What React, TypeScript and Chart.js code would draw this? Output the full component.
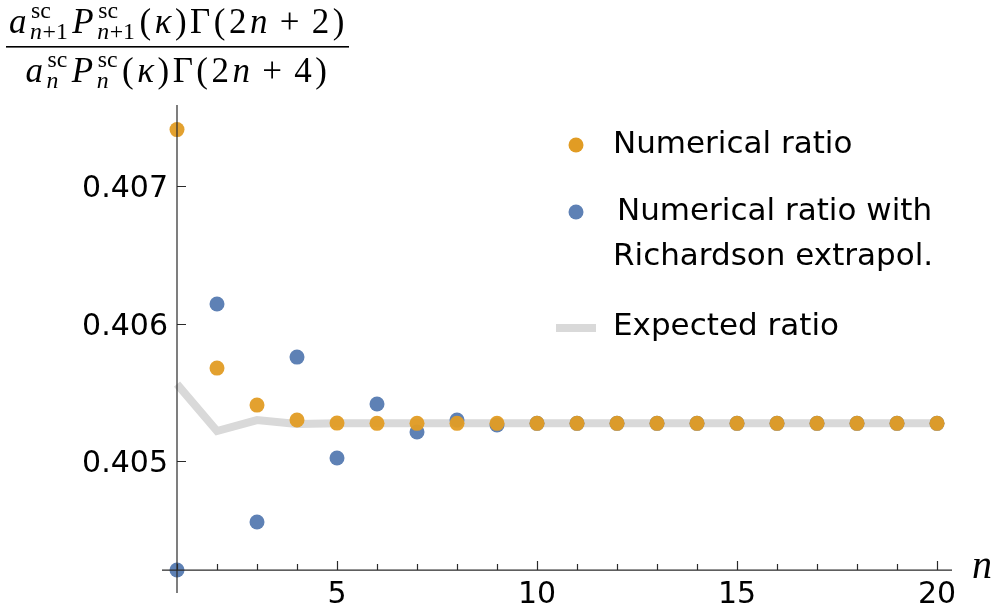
import React, { useEffect, useRef } from 'react';
import { Chart, registerables } from 'chart.js';

Chart.register(...registerables);

// ---- data ----
const nValues = [1, 2, 3, 4, 5, 6, 7, 8, 9, 10, 11, 12, 13, 14, 15, 16, 17, 18, 19, 20];
const numericalRatio = [
  0.407411, 0.405676, 0.405407, 0.405298, 0.405276, 0.405274, 0.405274, 0.405274, 0.405274, 0.405274,
  0.405274, 0.405274, 0.405274, 0.405274, 0.405274, 0.405274, 0.405274, 0.405274, 0.405274, 0.405274,
];
const richardsonRatio = [
  0.404207, 0.406142, 0.404556, 0.405756, 0.405022, 0.405415, 0.405211, 0.405298, 0.405262, 0.405274,
  0.405274, 0.405274, 0.405274, 0.405274, 0.405274, 0.405274, 0.405274, 0.405274, 0.405274, 0.405274,
];
const expectedRatio = [
  0.40556, 0.405218, 0.405298, 0.405269, 0.405274, 0.405274, 0.405274, 0.405274, 0.405274, 0.405274,
  0.405274, 0.405274, 0.405274, 0.405274, 0.405274, 0.405274, 0.405274, 0.405274, 0.405274, 0.405274,
];
const xMinorTicks = [1, 2, 3, 4, 5, 6, 7, 8, 9, 10, 11, 12, 13, 14, 15, 16, 17, 18, 19, 20];
const xMajorTicks = [5, 10, 15, 20];
const xTickLabels = ['5', '10', '15', '20'];
const yTicks = [0.405, 0.406, 0.407];
const yTickLabels = ['0.405', '0.406', '0.407'];
const axisOrigin = { x: 1, y: 0.404207 };
const xRange = { min: 0.625, max: 20.375 };
const yRange = { min: 0.40404, max: 0.40759 };
const seriesNames = ['Numerical ratio', 'Numerical ratio with', 'Richardson extrapol.', 'Expected ratio'];
const xAxisTitle = 'n';

const ORANGE = '#e19c24';
const BLUE = '#5e81b5';
const GRAY = '#d9d9d9';
const AXIS = '#2a2a2a';
const SANS = '"DejaVu Sans", sans-serif';
const SERIF = '"Liberation Serif", serif';

type Piece = { t: string; it?: boolean };
type Item = Piece | { sup: Piece[]; sub: Piece[] };

const numerator: Item[] = [
  { t: 'a', it: true },
  { sup: [{ t: 'sc' }], sub: [{ t: 'n', it: true }, { t: '+1' }] },
  { t: 'P', it: true },
  { sup: [{ t: 'sc' }], sub: [{ t: 'n', it: true }, { t: '+1' }] },
  { t: '(' },
  { t: 'κ', it: true },
  { t: ')' },
  { t: 'Γ' },
  { t: '(' },
  { t: '2' },
  { t: 'n', it: true },
  { t: ' + ' },
  { t: '2' },
  { t: ')' },
];
const denominator: Item[] = [
  { t: 'a', it: true },
  { sup: [{ t: 'sc' }], sub: [{ t: 'n', it: true }] },
  { t: 'P', it: true },
  { sup: [{ t: 'sc' }], sub: [{ t: 'n', it: true }] },
  { t: '(' },
  { t: 'κ', it: true },
  { t: ')' },
  { t: 'Γ' },
  { t: '(' },
  { t: '2' },
  { t: 'n', it: true },
  { t: ' + ' },
  { t: '4' },
  { t: ')' },
];

function font(size: number, it?: boolean) {
  return `${it ? 'italic ' : ''}${size}px ${SERIF}`;
}

function drawPieces(ctx: CanvasRenderingContext2D, pieces: Piece[], x: number, y: number, size: number, draw: boolean) {
  let w = 0;
  for (const p of pieces) {
    ctx.font = font(size, p.it);
    if (draw) ctx.fillText(p.t, x + w, y);
    w += ctx.measureText(p.t).width + 0.6;
  }
  return w;
}

function drawMath(ctx: CanvasRenderingContext2D, items: Item[], x: number, y: number, S: number, gap: number, draw: boolean) {
  let w = 0;
  const s = S * 0.68;
  for (const it of items) {
    if ('sup' in it) {
      const w1 = drawPieces(ctx, it.sup, x + w + 1, y - S * 0.42, s, draw);
      const w2 = drawPieces(ctx, it.sub, x + w, y + S * 0.17, s, draw);
      w += Math.max(w1 + 1, w2) + 1;
    } else {
      w += drawPieces(ctx, [it], x + w, y, S, draw);
    }
    w += gap;
  }
  return w - gap;
}

const overlay = {
  id: 'overlay',
  afterDatasetsDraw(chart: any) {
    const ctx: CanvasRenderingContext2D = chart.ctx;
    const xs = chart.scales.x;
    const ys = chart.scales.y;
    const area = chart.chartArea;
    ctx.save();
    // axes
    const ox = xs.getPixelForValue(axisOrigin.x);
    const oy = ys.getPixelForValue(axisOrigin.y);
    ctx.strokeStyle = AXIS;
    ctx.lineWidth = 1.2;
    ctx.beginPath();
    ctx.moveTo(area.left, oy);
    ctx.lineTo(area.right, oy);
    ctx.moveTo(ox, area.top);
    ctx.lineTo(ox, area.bottom);
    ctx.stroke();
    // ticks
    ctx.beginPath();
    for (const v of xMinorTicks) {
      const px = Math.round(xs.getPixelForValue(v)) + 0.5;
      const len = xMajorTicks.includes(v) ? 9 : 6;
      ctx.moveTo(px, oy);
      ctx.lineTo(px, oy - len);
    }
    for (const v of yTicks) {
      const py = Math.round(ys.getPixelForValue(v)) + 0.5;
      ctx.moveTo(ox, py);
      ctx.lineTo(ox + 9, py);
    }
    ctx.stroke();
    // tick labels
    ctx.fillStyle = '#000';
    ctx.font = `30px ${SANS}`;
    ctx.textBaseline = 'alphabetic';
    ctx.textAlign = 'center';
    xMajorTicks.forEach((v, i) => {
      ctx.fillText(xTickLabels[i], xs.getPixelForValue(v), oy + 33);
    });
    ctx.textAlign = 'right';
    yTicks.forEach((v, i) => {
      ctx.fillText(yTickLabels[i], ox - 9, ys.getPixelForValue(v) + 11);
    });
    // x axis title
    ctx.textAlign = 'left';
    ctx.font = font(40, true);
    ctx.fillText(xAxisTitle, 972, oy + 8);

    // legend
    ctx.font = `31px ${SANS}`;
    ctx.fillStyle = ORANGE;
    ctx.beginPath();
    ctx.arc(576, 145, 7.5, 0, Math.PI * 2);
    ctx.fill();
    ctx.fillStyle = BLUE;
    ctx.beginPath();
    ctx.arc(576, 212, 7.5, 0, Math.PI * 2);
    ctx.fill();
    ctx.strokeStyle = GRAY;
    ctx.lineWidth = 8;
    ctx.beginPath();
    ctx.moveTo(556, 328);
    ctx.lineTo(596, 328);
    ctx.stroke();
    ctx.fillStyle = '#000';
    ctx.fillText(seriesNames[0], 613, 153);
    ctx.fillText(seriesNames[1], 617, 220);
    ctx.fillText(seriesNames[2], 613, 265);
    ctx.fillText(seriesNames[3], 613, 335);

    // y title (fraction)
    const S = 35;
    const nGaps = numerator.length - 1;
    const wNum0 = drawMath(ctx, numerator, 0, 0, S, 0, false);
    const gap = Math.max(0, (336 - wNum0) / nGaps);
    const wNum = drawMath(ctx, numerator, 0, 0, S, gap, false);
    const wDen = drawMath(ctx, denominator, 0, 0, S, gap, false);
    drawMath(ctx, numerator, 177 - wNum / 2, 33, S, gap, true);
    drawMath(ctx, denominator, 176.5 - wDen / 2, 82, S, gap, true);
    ctx.fillRect(6, 46, 343, 1.6);
    ctx.restore();
  },
};

export default function App() {
  const ref = useRef<HTMLCanvasElement | null>(null);
  useEffect(() => {
    if (!ref.current) return;
    const toPts = (arr: number[]) => nValues.map((n, i) => ({ x: n, y: arr[i] }));
    const chart = new Chart(ref.current, {
      type: 'scatter',
      data: {
        datasets: [
          {
            label: seriesNames[3],
            data: toPts(expectedRatio),
            showLine: true,
            borderColor: GRAY,
            borderWidth: 8,
            pointRadius: 0,
            borderJoinStyle: 'miter',
            clip: false,
            order: 3,
          },
          {
            label: seriesNames[1] + ' ' + seriesNames[2],
            data: toPts(richardsonRatio),
            backgroundColor: BLUE,
            borderWidth: 0,
            pointRadius: 7.5,
            clip: false,
            order: 2,
          },
          {
            label: seriesNames[0],
            data: toPts(numericalRatio),
            backgroundColor: 'rgba(225,156,36,0.95)',
            borderWidth: 0,
            pointRadius: 7.5,
            clip: false,
            order: 1,
          },
        ],
      },
      options: {
        animation: false,
        responsive: false,
        devicePixelRatio: 1,
        layout: { padding: { left: 162, right: 44, top: 105, bottom: 20 } },
        plugins: { legend: { display: false }, tooltip: { enabled: false } },
        scales: {
          x: { type: 'linear', min: xRange.min, max: xRange.max, display: false },
          y: { type: 'linear', min: yRange.min, max: yRange.max, display: false },
        },
      },
      plugins: [overlay],
    });
    return () => chart.destroy();
  }, []);
  return (
    <div style={{ position: 'fixed', left: 0, top: 0, width: 996, height: 613, background: '#fff' }}>
      <canvas ref={ref} width={996} height={613} style={{ display: 'block' }} />
    </div>
  );
}
